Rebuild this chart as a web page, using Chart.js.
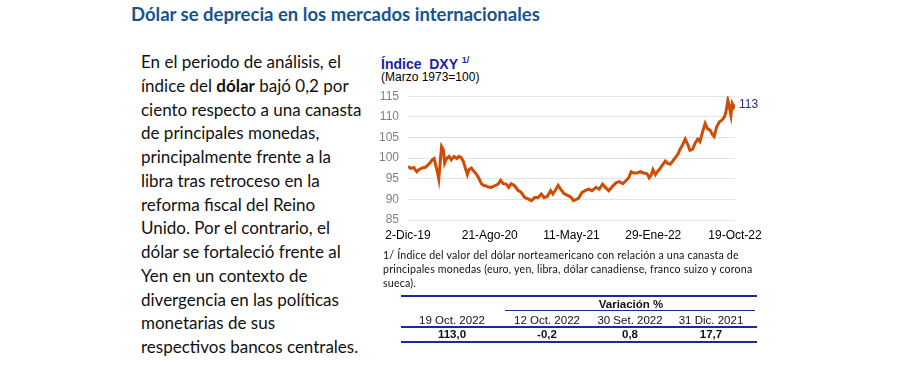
<!DOCTYPE html>
<html>
<head>
<meta charset="utf-8">
<script src="https://cdn.jsdelivr.net/npm/chart.js@4.4.0/dist/chart.umd.min.js"></script>
<style>
  body { margin: 0; width: 900px; height: 367px; background: #fff; position: relative; overflow: hidden; }
  .abs { position: absolute; white-space: nowrap; }
  #title { left: 131px; top: 3px; font: bold 18.5px Lato; color: #17548e; }
  #body { left: 141px; top: 50px; font: 17px Lato; line-height: 23.75px; color: #111; }
  #hdr { left: 381px; top: 55px; font: bold 14px "Liberation Sans"; color: #1d1dab; }
  #hdr sup { font-size: 9px; vertical-align: 6px; }
  #sub { left: 381px; top: 70px; font: 12px "Liberation Sans"; color: #000; }
  #note { left: 383px; top: 248px; font: 10.6px Lato; letter-spacing: 0.2px; line-height: 14px; color: #111; }
  .tline { position: absolute; background: #1b2a9c; }
  .cell { position: absolute; font: 11.5px "Liberation Sans"; color: #111; transform: translateX(-50%); white-space: nowrap; }
  .cell.b { font-weight: bold; }
  #wrap { position: absolute; left: 360px; top: 80px; width: 420px; height: 170px; }
</style>
</head>
<body>
<div id="title" class="abs">Dólar se deprecia en los mercados internacionales</div>
<div id="body" class="abs">En el periodo de análisis, el<br>índice del <b>dólar</b> bajó 0,2 por<br>ciento respecto a una canasta<br>de principales monedas,<br>principalmente frente a la<br>libra tras retroceso en la<br>reforma fiscal del Reino<br>Unido. Por el contrario, el<br>dólar se fortaleció frente al<br>Yen en un contexto de<br>divergencia en las políticas<br>monetarias de sus<br>respectivos bancos centrales.</div>
<div id="hdr" class="abs">Índice&nbsp; DXY <sup>1/</sup></div>
<div id="sub" class="abs">(Marzo 1973=100)</div>
<div id="wrap"><canvas id="dxy"></canvas></div>
<div id="note" class="abs">1/ Índice del valor del dólar norteamericano con relación a una canasta de<br>principales monedas (euro, yen, libra, dólar canadiense, franco suizo y corona<br>sueca).</div>
<div id="table"></div>

<script>
// days since 2-Dic-19 and DXY value
const days = [0, 9, 19, 28, 35, 46, 57, 68, 78, 84, 89, 94, 99, 103, 108, 114, 118, 124, 132, 139,
  148, 157, 164, 171, 178, 186, 191, 196, 204, 212, 221, 228, 236, 244, 250, 258, 268, 279, 290, 298,
  306, 316, 324, 332, 343, 354, 364, 375, 386, 397, 408, 418, 429, 438, 448, 459, 466, 474, 483, 491,
  502, 515, 525, 532, 538, 549, 560, 570, 581, 592, 605, 615, 626, 635, 646, 656, 669, 680, 691, 701,
  710, 718, 726, 737, 747, 758, 769, 776, 783, 788, 796, 800, 809, 820, 828, 836, 843, 852, 860, 868,
  875, 884, 892, 900, 907, 916, 924, 932, 939, 948, 956, 964, 972, 980, 985, 993, 1002, 1010, 1018, 1023,
  1029, 1034, 1039, 1043, 1048, 1052];
const dxy = [98.0, 97.5, 97.7, 96.7, 97.2, 97.6, 97.8, 98.6, 99.6, 99.9, 98.3, 96.8, 94.9, 98.5, 102.8, 102.0, 98.8, 99.9, 100.4, 99.6,
  100.4, 99.9, 100.4, 100.1, 99.2, 97.2, 96.0, 97.2, 97.6, 96.8, 96.0, 95.1, 93.8, 93.3, 93.3, 93.0, 92.9, 93.3, 93.7, 94.6,
  93.8, 93.7, 92.9, 93.8, 93.3, 92.2, 91.7, 90.5, 90.1, 89.7, 90.5, 90.4, 91.3, 90.4, 90.7, 92.1, 91.3, 92.2, 93.4, 92.5,
  91.4, 90.9, 90.5, 89.7, 89.9, 90.3, 91.7, 92.1, 92.5, 92.1, 92.9, 92.5, 93.7, 92.9, 92.1, 93.0, 94.0, 94.3, 93.8, 94.5,
  95.2, 96.7, 96.4, 96.4, 96.7, 96.4, 96.2, 95.2, 96.0, 97.2, 96.0, 96.5, 97.3, 98.5, 99.3, 98.7, 98.5, 99.3, 100.1, 100.9,
  102.1, 103.3, 104.6, 103.3, 101.9, 102.2, 103.7, 104.6, 104.0, 106.4, 108.4, 107.1, 106.8, 105.6, 105.2, 107.6, 108.8, 109.2, 110.0, 111.2,
  114.0, 112.4, 110.4, 113.2, 112.4, 113.0];
const xTickLabels = ['2-Dic-19', '21-Ago-20', '11-May-21', '29-Ene-22', '19-Oct-22'];
const tableHeads = ['19 Oct. 2022', '12 Oct. 2022', '30 Set. 2022', '31 Dic. 2021'];
const tableVals = ['113,0', '-0,2', '0,8', '17,7'];

// table under the chart
const tbl = document.getElementById('table')
const colX = [452, 547, 630, 711]
function addLine(x, y, w, h) {
  const d = document.createElement('div')
  d.className = 'tline'
  d.style.cssText = `left:${x}px;top:${y}px;width:${w}px;height:${h}px`
  tbl.appendChild(d)
}
function addCell(txt, x, y, bold) {
  const d = document.createElement('div')
  d.className = 'cell' + (bold ? ' b' : '')
  d.style.left = x + 'px'
  d.style.top = y + 'px'
  d.textContent = txt
  tbl.appendChild(d)
}
addLine(401, 295, 356, 2)
addLine(505, 310, 250, 1)
addLine(401, 326, 356, 2)
addLine(401, 341, 356, 2)
addCell('Variación %', 631, 298, true)
tableHeads.forEach((t, i) => addCell(t, colX[i], 314, false))
tableVals.forEach((t, i) => addCell(t, colX[i], 328, true))

// label with the last value at the end of the line
const lastLabel = {
  id: 'lastLabel',
  afterDatasetsDraw(chart) {
    const pts = chart.getDatasetMeta(0).data
    const p = pts[pts.length - 1]
    const ctx = chart.ctx
    ctx.save()
    ctx.font = '12px "Liberation Sans"'
    ctx.fillStyle = '#2a2a9c'
    ctx.textBaseline = 'middle'
    ctx.fillText(Math.round(dxy[dxy.length - 1]), p.x + 4, p.y)
    ctx.restore()
  }
}

const ctx = document.getElementById('dxy').getContext('2d')
new Chart(ctx, {
  type: 'line',
  data: {
    datasets: [{
      data: days.map((d, i) => ({ x: d, y: dxy[i] })),
      borderColor: '#cf4c04',
      borderWidth: 3,
      pointRadius: 0,
      tension: 0
    }]
  },
  options: {
    responsive: true,
    maintainAspectRatio: false,
    animation: false,
    layout: { padding: { top: 6, right: 45, left: 0, bottom: 0 } },
    plugins: { legend: { display: false }, tooltip: { enabled: false } },
    scales: {
      x: {
        type: 'linear', min: 0, max: 1052,
        afterBuildTicks: (s) => { s.ticks = [0, 263, 526, 789, 1052].map(v => ({ value: v })) },
        afterFit: (s) => { s.height = 30 },
        grid: { display: false },
        border: { display: false },
        ticks: {
          maxRotation: 0, autoSkip: false, padding: 0,
          color: '#000', font: { family: 'Liberation Sans', size: 12 },
          callback: (v, i) => xTickLabels[i]
        }
      },
      y: {
        min: 85, max: 115,
        afterFit: (s) => { s.width = 48 },
        grid: { color: '#e3e3e3', lineWidth: 1, drawTicks: false },
        border: { display: false },
        ticks: {
          stepSize: 5, padding: 9,
          color: '#808080', font: { family: 'Liberation Sans', size: 12 }
        }
      }
    }
  },
  plugins: [lastLabel]
})
</script>
</body>
</html>
